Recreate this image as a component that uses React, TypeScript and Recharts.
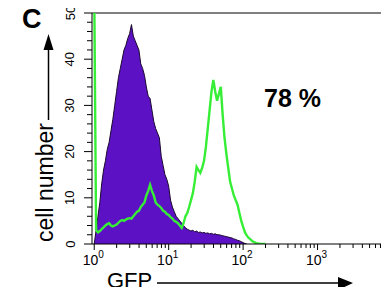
import React from 'react';
import { ComposedChart, Area, Line, XAxis, YAxis, ReferenceLine } from 'recharts';

// log10(GFP) channel positions
const GFP_LOG = [
  0, 0.025, 0.05, 0.075, 0.1, 0.125, 0.15, 0.175,
  0.2, 0.225, 0.25, 0.275, 0.3, 0.325, 0.35, 0.375,
  0.4, 0.425, 0.45, 0.475, 0.5, 0.525, 0.55, 0.575,
  0.6, 0.625, 0.65, 0.675, 0.7, 0.725, 0.75, 0.775,
  0.8, 0.825, 0.85, 0.875, 0.9, 0.925, 0.95, 0.975,
  1.0, 1.025, 1.05, 1.075, 1.1, 1.125, 1.15, 1.175,
  1.2, 1.225, 1.25, 1.275, 1.3, 1.325, 1.35, 1.375,
  1.4, 1.425, 1.45, 1.475, 1.5, 1.525, 1.55, 1.575,
  1.6, 1.625, 1.65, 1.675, 1.7, 1.725, 1.75, 1.775,
  1.8, 1.825, 1.85, 1.875, 1.9, 1.925, 1.95, 1.975,
  2.0, 2.025, 2.05, 2.075, 2.1, 2.125, 2.15, 2.175,
  2.2, 2.225, 2.25, 2.275, 2.3,
];
// control (filled purple) histogram
const CONTROL_COUNTS = [
  0, 3, 6, 9, 13, 16, 18, 20.5,
  22, 24.5, 27, 30, 33, 36, 38, 40,
  42, 43, 44.5, 45.5, 47.5, 45, 44, 43,
  42, 39, 38, 36.5, 34, 32, 31.5, 29,
  26.5, 25, 24, 23, 19, 17, 15, 14,
  12.5, 9.5, 8, 7, 6, 5.5, 5, 4.5,
  4, 3.5, 3.2, 3, 2.8, 3, 2.6, 2.8,
  2.5, 2.6, 2.4, 2.5, 2.3, 2.4, 2.2, 2.3,
  2.1, 2.2, 2.0, 2.0, 1.9, 1.8, 1.7, 1.6,
  1.5, 1.4, 1.3, 1.1, 1.0, 0.8, 0.7, 0.5,
  0.3, 0.1, 0, null, null, null, null, null,
  null, null, null, null, null,
];
// GFP (green outline) histogram
const GFP_COUNTS = [
  55, 3, 2.5, 2.8, 3.2, 3.6, 4, 4.3,
  4.5, 4, 3.8, 4, 4.2, 4.6, 5, 5.2,
  5, 5.3, 5.5, 5.6, 5.5, 6, 6.5, 7,
  7.2, 8, 8.5, 9, 10.5, 11.5, 12.8, 11.5,
  10.5, 9, 8.5, 8.2, 7.8, 7.2, 7, 6.5,
  6.3, 5.8, 5.5, 5, 4.8, 4.5, 4, 3.5,
  4.5, 6, 6.7, 8, 9.5, 11, 13.5, 16.7,
  16, 15.4, 16.5, 18, 21, 25, 29, 33,
  35.5, 33, 31, 32.5, 34, 28, 23, 19.5,
  16.5, 13.5, 12, 10.5, 9.5, 8.5, 6.7, 5,
  3.7, 2.5, 1.8, 1.3, 1, 0.6, 0.4, 0.2,
  0.1, 0, 0, 0, 0,
];

const Y_TICKS = [0, 2, 4, 6, 8, 10, 12, 14, 16, 18, 20, 22, 24, 26, 28, 30, 32, 34, 36, 38, 40, 42, 44, 46, 48, 50];
const Y_LABELED = [0, 10, 20, 30, 40, 50];
const X_DECADES = [0, 1, 2, 3, 4];
const MINOR_MULTIPLIERS = [2, 3, 4, 5, 6, 7, 8, 9];

const PANEL_LABEL = 'C';
const PERCENT_LABEL = '78 %';
const Y_TITLE = 'cell number';
const X_TITLE = 'GFP';

const data = GFP_LOG.map((v, i) => ({ log: v, control: CONTROL_COUNTS[i], gfp: GFP_COUNTS[i] }));

const X_TICKS: number[] = [];
X_DECADES.forEach((d) => {
  X_TICKS.push(d);
  if (d < 4) MINOR_MULTIPLIERS.forEach((m) => X_TICKS.push(d + Math.log10(m)));
});

const FONT = 'Liberation Sans, Arial, Helvetica, sans-serif';

const XTick = (props: any) => {
  const { x, y, payload } = props;
  const v = payload.value;
  const isMajor = Math.abs(v - Math.round(v)) < 1e-9;
  return (
    <g>
      <line x1={x} x2={x} y1={y} y2={y + (isMajor ? 6 : 4)} stroke="#000" strokeWidth={1} />
      {isMajor && (
        <text x={x - 1} y={y + 21} textAnchor="middle" fontFamily={FONT} fontSize={14} fill="#000">
          <tspan>10</tspan>
          <tspan dy={-7} fontSize={10}>{String(Math.round(v))}</tspan>
        </text>
      )}
    </g>
  );
};

const YTick = (props: any) => {
  const { x, y, payload } = props;
  const v = payload.value;
  const isMajor = Y_LABELED.includes(v);
  const cx = x - 22;
  return (
    <g>
      <line x1={x - (isMajor ? 8 : 5)} x2={x} y1={y} y2={y} stroke="#000" strokeWidth={1} />
      {isMajor && (
        <text
          x={cx}
          y={y}
          transform={`rotate(-90, ${cx}, ${y})`}
          textAnchor="middle"
          dominantBaseline="central"
          fontFamily={FONT}
          fontSize={13}
          fill="#000"
        >
          {v}
        </text>
      )}
    </g>
  );
};

export default function App() {
  return (
    <div style={{ position: 'relative', width: 389, height: 295, margin: -8, overflow: 'hidden', background: '#fff' }}>
      <ComposedChart width={400} height={295} data={data} margin={{ top: 13, right: 8, bottom: 0, left: 0 }}>
        <XAxis
          dataKey="log"
          type="number"
          domain={[-0.03, 4]}
          ticks={X_TICKS}
          interval={0}
          tick={<XTick />}
          tickLine={false}
          tickSize={0}
          tickMargin={0}
          axisLine={{ stroke: '#000', strokeWidth: 1 }}
          height={51}
        />
        <YAxis
          type="number"
          domain={[0, 50]}
          allowDataOverflow
          ticks={Y_TICKS}
          interval={0}
          tick={<YTick />}
          tickLine={false}
          tickSize={0}
          tickMargin={0}
          axisLine={{ stroke: '#000', strokeWidth: 1 }}
          width={92}
        />
        <ReferenceLine y={50} stroke="#000" strokeWidth={1} />
        <Area
          dataKey="control"
          type="linear"
          fill="#5c12c4"
          fillOpacity={1}
          stroke="#1a0830"
          strokeWidth={1}
          isAnimationActive={false}
          dot={false}
          activeDot={false}
        />
        <Line
          dataKey="gfp"
          type="linear"
          stroke="#36ee36"
          strokeWidth={2.4}
          dot={false}
          activeDot={false}
          isAnimationActive={false}
        />
      </ComposedChart>
      <svg width={389} height={295} style={{ position: 'absolute', left: 0, top: 0, pointerEvents: 'none' }}>
        <rect x={0} y={0} width={8} height={295} fill="#262626" />
        <text x={22} y={28} fontFamily={FONT} fontWeight="bold" fontSize={27} fill="#000">{PANEL_LABEL}</text>
        <text x={264} y={107} fontFamily={FONT} fontWeight="bold" fontSize={25} fill="#000">{PERCENT_LABEL}</text>
        <text
          x={53}
          y={242}
          transform="rotate(-90, 53, 242)"
          textAnchor="start"
          fontFamily={FONT}
          fontSize={23}
          fill="#000"
        >
          {Y_TITLE}
        </text>
        <line x1={48.5} x2={48.5} y1={48} y2={120} stroke="#000" strokeWidth={1.5} />
        <polygon points="48.5,34 43.5,50 53.5,50" fill="#000" />
        <text x={107} y={288} fontFamily={FONT} fontSize={22} fill="#000">{X_TITLE}</text>
        <line x1={157} x2={340} y1={283} y2={283} stroke="#000" strokeWidth={1.5} />
        <polygon points="353,283 338,277 338,290" fill="#000" />
      </svg>
    </div>
  );
}
